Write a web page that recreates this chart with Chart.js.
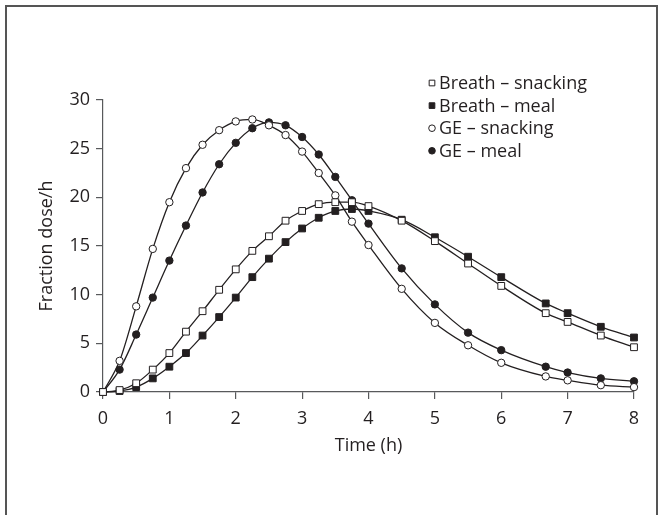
<!DOCTYPE html>
<html>
<head>
<meta charset="utf-8">
<script src="https://cdn.jsdelivr.net/npm/chart.js@4/dist/chart.umd.min.js"></script>
<style>
  html, body { margin: 0; padding: 0; background: #fff; }
  body { position: relative; width: 661px; height: 515px; overflow: hidden; }
  #frame {
    position: absolute; left: 5px; top: 5px; width: 653px; height: 560px;
    box-sizing: border-box; border: 2px solid #555; border-bottom: none;
  }
  #box { position: absolute; left: 0; top: 0; width: 661px; height: 515px; }
</style>
</head>
<body>
<div id="frame"></div>
<div id="box"><canvas id="grafica"></canvas></div>
<script>
// sampling times (h)
const tiempos = [0, 0.25, 0.5, 0.75, 1, 1.25, 1.5, 1.75, 2, 2.25, 2.5, 2.75, 3,
  3.25, 3.5, 3.75, 4, 4.5, 5, 5.5, 6, 6.67, 7, 7.5, 8];

// fraction dose/h per series
const breathSnacking = [0, 0.2, 0.9, 2.3, 4.0, 6.2, 8.3, 10.5, 12.6, 14.5, 16.0, 17.6, 18.6,
  19.3, 19.5, 19.5, 19.1, 17.6, 15.5, 13.2, 10.9, 8.1, 7.2, 5.8, 4.6];
const breathMeal = [0, 0.1, 0.5, 1.4, 2.6, 4.0, 5.8, 7.7, 9.7, 11.8, 13.7, 15.4, 16.8,
  17.9, 18.6, 18.8, 18.6, 17.7, 15.9, 13.9, 11.8, 9.1, 8.1, 6.7, 5.6];
const geSnacking = [0, 3.2, 8.8, 14.7, 19.5, 23.0, 25.4, 26.9, 27.8, 28.0, 27.4, 26.4, 24.7,
  22.5, 20.2, 17.5, 15.1, 10.6, 7.1, 4.8, 3.0, 1.6, 1.2, 0.7, 0.5];
const geMeal = [0, 2.3, 5.9, 9.7, 13.5, 17.1, 20.5, 23.4, 25.6, 27.1, 27.7, 27.4, 26.2,
  24.4, 22.1, 19.7, 17.3, 12.7, 9.0, 6.1, 4.3, 2.6, 2.0, 1.4, 1.1];

const xTicks = [0, 1, 2, 3, 4, 5, 6, 7, 8];
const yTicks = [0, 5, 10, 15, 20, 25, 30];

const tinta = "#231f20";
const ejes = "#58595b";
const fuente = "'Open Sans', 'Noto Sans', sans-serif";

function serie(label, valores, estilo, relleno, radio) {
    return {
        label: label,
        data: valores.map((v, i) => ({ x: tiempos[i], y: v })),
        borderColor: tinta,
        borderWidth: 1.3,
        cubicInterpolationMode: "monotone",
        clip: false,
        pointStyle: estilo,
        pointRadius: radio,
        pointHoverRadius: radio,
        pointBackgroundColor: relleno,
        pointBorderColor: tinta,
        pointBorderWidth: 1,
        fill: false
    };
}

// legend drawn as a plain list above the upper right of the plot
const leyenda = {
    id: "leyenda",
    afterDraw(chart) {
        let ctx = chart.ctx;
        let area = chart.chartArea;
        let x = area.right - 202;
        let y = area.top - 17;
        ctx.save();
        ctx.font = "18px " + fuente;
        ctx.textBaseline = "middle";
        ctx.textAlign = "left";
        chart.data.datasets.forEach(ds => {
            ctx.fillStyle = ds.pointBackgroundColor;
            ctx.strokeStyle = tinta;
            ctx.lineWidth = 1;
            Chart.helpers.drawPoint(ctx, {
                pointStyle: ds.pointStyle,
                radius: ds.pointStyle === "rect" ? 4 : 3.3,
                borderWidth: 1,
                rotation: 0
            }, x, y);
            ctx.fillStyle = tinta;
            ctx.fillText(ds.label, x + 7, y + 1);
            y += 22.6;
        });
        ctx.restore();
    }
};

let ctx = document.getElementById("grafica");

new Chart(ctx, {
    type: "line",
    data: {
        datasets: [
            serie("Breath \u2013 snacking", breathSnacking, "rect", "#ffffff", 4.8),
            serie("Breath \u2013 meal", breathMeal, "rect", tinta, 4.8),
            serie("GE \u2013 snacking", geSnacking, "circle", "#ffffff", 3.7),
            serie("GE \u2013 meal", geMeal, "circle", tinta, 3.7)
        ]
    },
    options: {
        responsive: true,
        maintainAspectRatio: false,
        animation: false,
        events: [],
        layout: { padding: { left: 36, top: 100, right: 27, bottom: 58 } },
        plugins: {
            legend: { display: false },
            tooltip: { enabled: false }
        },
        scales: {
            x: {
                type: "linear",
                min: 0,
                max: 8,
                afterBuildTicks: scale => { scale.ticks = xTicks.map(v => ({ value: v })); },
                afterFit: scale => { scale.height = 65; },
                grid: { display: true, drawOnChartArea: false, drawTicks: true, tickLength: 7, color: ejes, lineWidth: 1.2 },
                border: { display: true, color: ejes, width: 1.2 },
                ticks: { color: tinta, padding: 9, font: { family: fuente, size: 18 } },
                title: { display: true, text: "Time (h)", color: tinta, padding: 0, font: { family: fuente, size: 18 } }
            },
            y: {
                min: 0,
                max: 30,
                afterBuildTicks: scale => { scale.ticks = yTicks.map(v => ({ value: v })); },
                afterFit: scale => { scale.width = 67; },
                grid: { display: true, drawOnChartArea: false, drawTicks: true, tickLength: 7, color: ejes, lineWidth: 1.2 },
                border: { display: true, color: ejes, width: 1.2 },
                ticks: { color: tinta, padding: 6, font: { family: fuente, size: 18 } },
                title: { display: true, text: "Fraction dose/h", color: tinta, padding: 0, font: { family: fuente, size: 18 } }
            }
        }
    },
    plugins: [leyenda]
});
</script>
</body>
</html>
